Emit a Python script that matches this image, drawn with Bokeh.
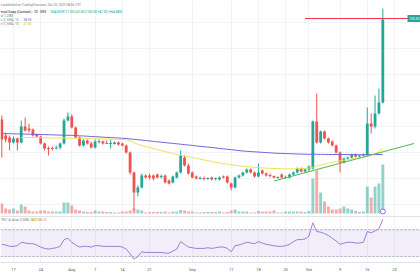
import pandas as pd
from bokeh.plotting import figure
from bokeh.models import (Range1d, FixedTicker, SingleIntervalTicker, Grid, Label, Span,
                          BoxAnnotation, ColumnDataSource)
from bokeh.embed import file_html
from bokeh.resources import INLINE

# ---------------- data (daily, 2023-07-14 .. 2023-10-20) ----------------
start_date = "2023-07-14"
end_date = "2023-10-20"

opens = [55.5, 47.5, 46.5, 44, 46, 44, 52, 51, 50.5, 48, 47, 43.5, 41.25, 41.25, 41, 41.5, 43.5, 55,
         57, 51.5, 46.5, 42.5, 45, 43.5, 41.5, 44.25, 44.5, 43.75, 43.25, 43.25, 44, 43.5, 42.5, 39, 29, 19,
         21.5, 27.5, 27.5, 27.5, 28, 26.75, 27.5, 25, 24, 26.5, 29, 36.5, 32.5,
         29, 27, 25.75, 26.25, 25.75, 26.5, 25.75, 25.5, 27, 27, 23.5, 21.5, 26.5, 27.5, 29, 30.5, 29, 27,
         30, 28.5, 27.75, 27.25, 26.25, 28, 26.25, 26.5, 28, 29, 31, 29.5,
         30.5, 31, 54.5, 44, 49.5, 46, 44.5, 42.5, 39, 34, 36, 36.5, 38, 37, 37.5, 37.5, 53.5, 52, 58.5, 64]
highs = [57.5, 49, 47.5, 47, 46.5, 55, 56.5, 53.5, 51, 48.5, 47.5, 44, 42, 42, 42.5, 44, 56, 59,
         58, 52, 47, 45.5, 45.5, 44.5, 45.5, 45.5, 45, 45, 45.5, 44.5, 44.5, 44, 43, 39.5, 29.5, 22.5,
         28.5, 28, 28.5, 28, 28.5, 28, 28, 25.5, 27.5, 29.5, 40, 37.5, 33.5,
         29.5, 27.5, 27, 27, 26.5, 27, 26.5, 27, 27.5, 27.5, 24, 27, 28, 29.5, 31, 31, 29.5, 33.5,
         30.5, 29, 28.5, 27.5, 27, 28.5, 27.5, 28.5, 29.5, 31.5, 31.5, 31,
         32.5, 55, 68.5, 50, 50, 46.5, 45, 43, 39.5, 36.5, 37, 38.5, 38.5, 38, 38.5, 61.5, 58.5, 67.5, 71, 111]
lows = [36.5, 44, 40, 43.5, 40, 43.5, 49.5, 49, 47, 46.5, 43, 40, 37.5, 40, 40.5, 40.5, 43, 54.5,
        51, 46, 42, 42, 43, 41, 41, 43.5, 43, 43.5, 41, 43, 42.5, 42, 38.5, 28, 10, 17,
        21, 26, 25.5, 25, 26, 26, 23.5, 23, 23.5, 26, 28.5, 32, 28,
        26, 25.5, 25.5, 25, 25.25, 25, 25, 25, 26, 23.5, 20, 21, 26, 27, 28.5, 28.5, 26.5, 26.5,
        28, 27, 26.5, 26, 26, 26, 26, 26, 27.5, 28.5, 29, 29,
        29.5, 30.5, 43.5, 43.5, 45.5, 43.5, 42, 38.5, 29, 33.5, 35.5, 36, 36.5, 36.5, 37, 37, 48.5, 51, 58, 63.5]
closes = [45.5, 45.5, 44, 46, 44, 52, 50, 50, 47.5, 47, 43.5, 41, 40.75, 40.75, 41.5, 43.5, 55, 57,
          51.5, 46.5, 42.5, 45, 43.5, 41.5, 44.5, 44.75, 43.5, 43.25, 43.75, 44, 43, 42.5, 39, 29, 19, 21.5,
          27.5, 26.5, 26.5, 26, 26.5, 27.25, 24, 23.5, 27, 29, 37.5, 32.5, 28.5,
          26.5, 26, 26.25, 25.75, 26.25, 25.5, 26.25, 26.5, 26.5, 24, 21.5, 26.5, 27.5, 29, 30.5, 29, 27, 29,
          28.5, 27.5, 27.25, 26.5, 26.75, 26.5, 26.75, 28, 29, 31, 29.5, 30.5,
          32, 54.5, 44, 49.5, 46, 44, 42.5, 39, 34, 36, 36.5, 38, 37, 37.5, 38, 53.5, 52, 58.5, 64, 105.5]
volumes_k = [250, 125, 100, 125, 75, 225, 175, 75, 50, 50, 75, 75, 50, 50, 50, 50, 275, 275,
             200, 100, 75, 50, 38, 38, 75, 50, 50, 38, 38, 25, 25, 50, 50, 75, 125, 100, 75, 25,
             38, 38, 38, 38, 50, 25, 50, 50, 88, 75, 50,
             50, 25, 25, 38, 38, 38, 38, 50, 25, 38, 75, 100, 50, 50, 50, 25, 25, 63, 50, 50,
             50, 75, 25, 25, 50, 50, 50, 50, 50, 38,
             63, 875, 1075, 525, 300, 175, 100, 100, 125, 175, 125, 100, 63, 38, 50, 675, 400, 675, 750, 1225]
ma_slow = [48.5, 48.45, 48.4, 48.35, 48.3, 48.25, 48.2, 48.15, 48.1, 48.05, 48.0, 47.95, 47.9, 47.85, 47.75, 47.7, 47.65, 47.6,
           47.6, 47.5, 47.35, 47.25, 47.15, 47.0, 46.9, 46.8, 46.7, 46.55, 46.45, 46.35, 46.25, 46.1, 46.0,
           45.8, 45.6, 45.4, 45.2, 45.0, 44.8, 44.55, 44.35, 44.15, 43.95, 43.75, 43.55, 43.35, 43.15, 42.95, 42.75,
           42.55, 42.3, 42.1, 41.9, 41.7, 41.5,
           41.3, 41.05, 40.85, 40.6, 40.4, 40.2, 39.95, 39.75,
           39.6, 39.45, 39.35, 39.2, 39.1, 38.95, 38.85, 38.7, 38.6,
           38.55, 38.45, 38.4, 38.35, 38.25, 38.2, 38.15, 38.1,
           38.1, 38.1, 38.05, 38.05, 38.0, 38.0, 38.0, 37.95, 37.95, 37.95, 37.9, 37.9, 37.9, 37.9, 37.9,
           37.95, 37.95, 38.0, 38.05]
ma_fast_start = "2023-07-19"
ma_fast = [46.5, 46.5, 46.5, 46.5, 46.45, 46.45, 46.4, 46.35, 46.3, 46.25, 46.2, 46.2, 46.2,
           46.15, 46.15, 46.1, 46.05, 46.0, 45.95, 45.9, 45.85, 45.8, 45.75, 45.7, 45.65, 45.6, 45.55, 45.4,
           44.9, 44.0, 43.1, 42.5, 42.0, 41.5, 41.0, 40.5, 40.0, 39.5, 39.0, 38.5, 38.0, 37.6, 37.25, 36.9,
           36.5, 36.1, 35.7, 35.3, 34.9, 34.5, 34.1, 33.75, 33.45, 33.15, 32.85, 32.6, 32.35, 32.15, 31.95,
           31.75, 31.6, 31.45, 31.3, 31.2, 31.1, 31.0, 30.95, 30.9, 30.85, 30.85, 30.85, 30.9, 30.95, 31.05,
           31.2, 31.7, 32.25, 32.75, 33.25, 33.7, 34.1, 34.5, 34.85, 35.15, 35.45, 35.75, 36.0, 36.3, 36.6,
           37.25, 37.75, 38.4, 39.25, 41.0]
rsi = [48, 47, 45, 45, 46, 51, 50, 49, 49, 47, 44, 42, 41, 42, 43, 45, 55, 57,
       51, 47, 44, 45, 45, 44, 46, 46, 45, 45, 45, 45, 45, 44, 41, 34, 26, 30, 37, 36,
       36, 36, 36, 36, 35, 35, 38, 41, 52, 48, 44,
       43, 42, 42, 42, 43, 42, 43, 44, 44, 42, 37, 46, 47, 49, 51, 50, 49, 52, 50, 48,
       47, 46, 45, 45, 46, 48, 52, 55, 55, 56,
       60, 80, 67, 66, 64, 61, 57, 53, 48, 50, 51, 51, 50, 50, 51, 67, 65, 68, 71, 85]
trend_dates = ["2023-09-22", "2023-10-28"]
trend_values = [24.75, 43.5]
level_start = "2023-09-30"
level_value = 106.0
tick_dates = ["2023-07-17", "2023-07-24", "2023-08-01", "2023-08-07", "2023-08-14", "2023-08-21",
              "2023-09-01", "2023-09-11", "2023-09-18", "2023-09-25", "2023-10-01", "2023-10-09",
              "2023-10-16", "2023-10-23"]
tick_labels = ["17", "24", "Aug", "7", "14", "21", "Sep", "11", "18", "25", "Oct", "9", "16", "23"]

# ---------------- build ----------------
dates = pd.date_range(start_date, end_date, freq="D")
t0 = dates[0]
def day(d):
    return (pd.Timestamp(d) - t0).days

x = [(d - t0).days for d in dates]
UP, DN = "#26a69a", "#ef5350"
colors = [UP if c >= o else DN for o, c in zip(opens, closes)]
src = ColumnDataSource(dict(
    x=x, high=highs, low=lows,
    top=[max(o, c) for o, c in zip(opens, closes)],
    bot=[min(o, c) for o, c in zip(opens, closes)],
    vol=volumes_k, color=colors, rsi=rsi, ma=ma_slow))

X0, X1 = -0.334, 107.69
p = figure(frame_width=420, frame_height=262, output_backend="svg", toolbar_location=None,
           x_range=Range1d(X0, X1), y_range=Range1d(-16, 115),
           y_axis_location=None, x_axis_location="below", min_border=0)
p.extra_y_ranges = {"vol": Range1d(-1225, 5325), "rsi": Range1d(21.11, 409.26)}
p.outline_line_color = None
p.background_fill_color = "white"
p.border_fill_color = "white"

for g in p.grid:
    g.visible = False
tick_x = [day(d) for d in tick_dates]
p.add_layout(Grid(dimension=0, ticker=FixedTicker(ticks=tick_x), grid_line_color="#f0f3fa"))
p.add_layout(Grid(dimension=1, ticker=SingleIntervalTicker(interval=13), grid_line_color="#f0f3fa"))

ax = p.xaxis[0]
ax.ticker = FixedTicker(ticks=tick_x)
ax.major_label_overrides = {int(t): lab for t, lab in zip(tick_x, tick_labels)}
ax.major_label_text_font_size = "4px"
ax.major_label_text_font = "Roboto"
ax.major_label_text_color = "#50535e"
ax.major_label_standoff = 4
ax.major_tick_line_color = None
ax.minor_tick_line_color = None
ax.major_tick_out = 0
ax.axis_line_color = "#e0e3eb"

# RSI pane decorations
p.add_layout(BoxAnnotation(bottom=30, top=70, y_range_name="rsi", fill_color="#7e57c2",
                           fill_alpha=0.1, line_color=None))
for lv in (70, 30):
    p.add_layout(Span(location=lv, dimension="width", y_range_name="rsi", line_color="#9598a1",
                      line_dash="2 2", line_width=0.7))
p.add_layout(Span(location=89.26, dimension="width", y_range_name="rsi", line_color="#e0e3eb",
                  line_width=1))

# volume
p.vbar(x="x", width=0.75, top="vol", bottom=0, fill_color="color", fill_alpha=0.5,
       line_color=None, y_range_name="vol", source=src)

# candles
p.segment(x0="x", y0="low", x1="x", y1="high", line_color="color", line_width=1, source=src)
p.vbar(x="x", width=0.72, top="top", bottom="bot", fill_color="color", line_color=None, source=src)

# moving averages
p.line(x, ma_slow, line_color="#7266d9", line_width=1)
fx = [day(ma_fast_start) + i for i in range(len(ma_fast))]
p.line(fx, ma_fast, line_color="#f2e05a", line_width=1)

# trendline and level
p.line([day(d) for d in trend_dates], trend_values, line_color="#5cb85c", line_width=1.2)
p.line([day(level_start), X1], [level_value, level_value], line_color="#f23645", line_width=1)
p.add_layout(Label(x=407, x_units="screen", y=level_value, y_units="data",
                   text=f"{closes[-1]:.2f}", text_font_size="3.2px", text_font="Roboto",
                   text_color="white", text_baseline="middle", background_fill_color="#26a69a",
                   padding=2))

# RSI line
p.line("x", "rsi", line_color="#9b84d6", line_width=1, y_range_name="rsi", source=src)
p.scatter([x[-1]], [50], size=5, marker="circle", fill_color="white", line_color="#9c6ade",
          line_width=1, y_range_name="vol")

# legend texts
H = 262
def txt(xp, yp, s, color, size="3.2px"):
    p.add_layout(Label(x=xp, y=H - yp, x_units="screen", y_units="screen", text=s,
                       text_font_size=size, text_font="Roboto", text_color=color,
                       text_baseline="middle"))

chg = closes[-1] - closes[-2]
txt(0, 4, "e published on TradingView.com, Oct 20, 2023 08:56 UTC", "#787b86")
txt(0, 11, "etual Swap (Contract) · 1D · OKX", "#131722")
txt(50, 11, f"O{opens[-1]:.2f} H{highs[-1]:.2f} L{lows[-1]:.2f} C{closes[-1]:.2f} "
            f"+{chg:.2f} (+{chg / closes[-2] * 100:.2f}%)", "#089981")
txt(0, 15, f"ol  {volumes_k[-1] / 1000:.2f}M", "#089981")
txt(0, 19, "e, 0, SMA, 10", "#787b86")
txt(23, 19, f"{ma_slow[-1]:.2f}", "#7266d9")
txt(0, 23, "e, 0, SMA, 10", "#787b86")
txt(23, 23, f"{ma_fast[-1]:.2f}", "#d9c21f")
txt(1, 219, "RSI 14 close 0 SMA 14 2", "#787b86")
txt(31, 219, f"{rsi[-1]:.2f}", "#d9c21f")
txt(38, 219, "58.10", "#f06292")

open("out.html", "w").write(file_html(p, INLINE))
